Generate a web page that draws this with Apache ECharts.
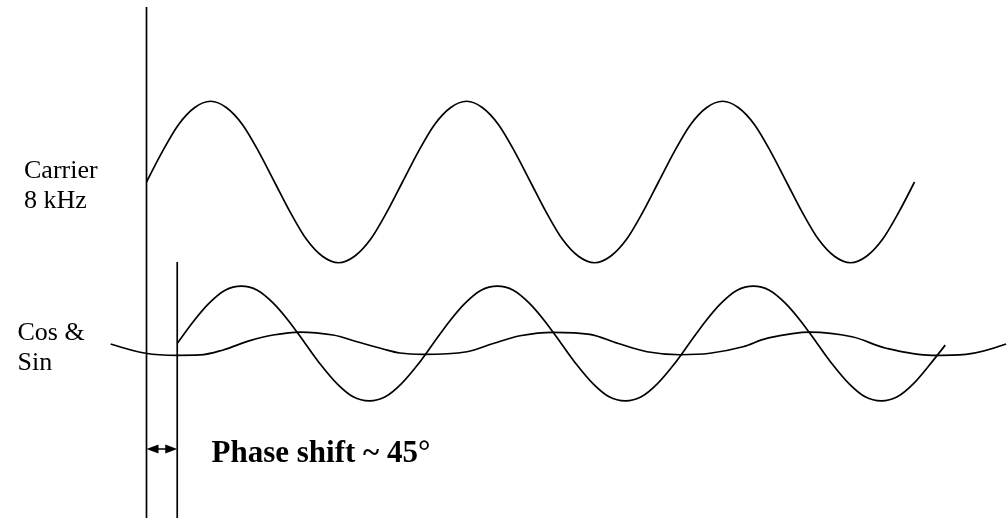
<!DOCTYPE html>
<html><head><meta charset="utf-8">
<script src="https://cdn.jsdelivr.net/npm/echarts@6/dist/echarts.min.js"></script>
<style>html,body{margin:0;padding:0;background:#fff}#c{width:1008px;height:518px}</style>
</head><body><div id="c"></div>
<script>
// Time in microseconds (8 kHz carrier -> 125 us period), level in carrier-amplitude units
const carrierTime  = [0, 7.8, 15.6, 23.4, 31.3, 39.1, 46.9, 54.7, 62.5, 70.3, 78.1, 85.9, 93.8, 101.6, 109.4, 117.2,
                      125, 132.8, 140.6, 148.4, 156.3, 164.1, 171.9, 179.7, 187.5, 195.3, 203.1, 210.9, 218.8, 226.6, 234.4, 242.2,
                      250, 257.8, 265.6, 273.4, 281.3, 289.1, 296.9, 304.7, 312.5, 320.3, 328.1, 335.9, 343.8, 351.6, 359.4, 367.2, 375];
const carrierLevel = [0, 0.38, 0.71, 0.92, 1, 0.92, 0.71, 0.38, 0, -0.38, -0.71, -0.92, -1, -0.92, -0.71, -0.38,
                      0, 0.38, 0.71, 0.92, 1, 0.92, 0.71, 0.38, 0, -0.38, -0.71, -0.92, -1, -0.92, -0.71, -0.38,
                      0, 0.38, 0.71, 0.92, 1, 0.92, 0.71, 0.38, 0, -0.38, -0.71, -0.92, -1, -0.92, -0.71, -0.38, 0];

const cosTime  = [15, 22.8, 30.6, 38.4, 46.3, 54.1, 61.9, 69.7, 77.5, 85.3, 93.1, 100.9, 108.8, 116.6, 124.4, 132.2,
                  140, 147.8, 155.6, 163.4, 171.3, 179.1, 186.9, 194.7, 202.5, 210.3, 218.1, 225.9, 233.8, 241.6, 249.4, 257.2,
                  265, 272.8, 280.6, 288.4, 296.3, 304.1, 311.9, 319.7, 327.5, 335.3, 343.1, 350.9, 358.8, 366.6, 374.4, 382.2, 390];
const cosLevel = [0, 0.27, 0.5, 0.66, 0.71, 0.66, 0.5, 0.27, 0, -0.27, -0.5, -0.66, -0.71, -0.66, -0.5, -0.27,
                  0, 0.27, 0.5, 0.66, 0.71, 0.66, 0.5, 0.27, 0, -0.27, -0.5, -0.66, -0.71, -0.66, -0.5, -0.27,
                  0, 0.27, 0.5, 0.66, 0.71, 0.66, 0.5, 0.27, 0, -0.27, -0.5, -0.66, -0.71, -0.66, -0.5, -0.27, -0.02];

const sinTime  = [-17.5, -0.4, 15.0, 26.1, 37.4, 50.5, 61.8, 75.0, 91.1, 102.8, 115.5, 123.8, 135.0, 156.5, 169.3, 182.4, 198.5, 216.5, 230.4, 244.4, 260.5, 275.1, 291.3, 302.9, 324.0, 344.5, 361.2, 383.5, 400.1, 419.7];
const sinLevel = [-0.006, -0.121, -0.146, -0.142, -0.080, 0.035, 0.105, 0.142, 0.105, 0.022, -0.068, -0.118, -0.134, -0.102, 0.0, 0.096, 0.139, 0.114, 0.0, -0.102, -0.139, -0.121, -0.040, 0.064, 0.142, 0.084, -0.059, -0.146, -0.134, -0.006];

// Annotation: reference verticals (t = 0 and phase-shifted start) and their top levels
const markerTime = [0, 15];
const markerTop  = [2.167, -0.991];
const arrowLevel = -3.307;

const labels = ['Carrier', '8 kHz', 'Cos &', 'Sin', 'Phase shift ~ 45\u00B0'];

const LOWER_OFFSET = -2;
const Y_MIN = -4.161, Y_MAX = 2.254;
const X_MIN = -71.533, X_MAX = 420.654;
const ARROW_HEAD = 12; // px length of each arrow head
const pairs = (ts, vs, off) => ts.map((t, i) => [t, vs[i] + off]);

const ink = { color: '#000', width: 1.7 };
const chart = echarts.init(document.getElementById('c'), null, { renderer: 'canvas' });
// inset so arrow tips touch the verticals (symbols are centred on the end points)
const inset = (ARROW_HEAD / 2) * (X_MAX - X_MIN) / 1008;
const option = {
  animation: false,
  backgroundColor: '#fff',
  grid: { left: 0, right: 0, top: 0, bottom: 0 },
  xAxis: { type: 'value', min: X_MIN, max: X_MAX, show: false },
  yAxis: { type: 'value', min: Y_MIN, max: Y_MAX, show: false },
  series: [
    { type: 'line', name: 'Carrier', data: pairs(carrierTime, carrierLevel, 0), smooth: 0.3, symbol: 'none', lineStyle: ink, clip: false },
    { type: 'line', name: 'Cos', data: pairs(cosTime, cosLevel, LOWER_OFFSET), smooth: 0.3, symbol: 'none', lineStyle: ink, clip: false },
    { type: 'line', name: 'Sin', data: pairs(sinTime, sinLevel, LOWER_OFFSET), smooth: 0.35, symbol: 'none', lineStyle: ink, clip: false },
    { type: 'line', name: 'ref0', data: [[markerTime[0], markerTop[0]], [markerTime[0], Y_MIN]], symbol: 'none', lineStyle: ink },
    { type: 'line', name: 'ref1', data: [[markerTime[1], markerTop[1]], [markerTime[1], Y_MIN]], symbol: 'none', lineStyle: ink,
      markLine: {
        silent: true,
        symbol: ['triangle', 'triangle'],
        symbolSize: [9, ARROW_HEAD],
        label: { show: false },
        lineStyle: { color: '#000', width: 1.5, type: 'solid' },
        data: [[{ coord: [markerTime[0] + inset, arrowLevel] }, { coord: [markerTime[1] - inset, arrowLevel] }]]
      }
    }
  ],
  graphic: [
    { type: 'text', x: 24, y: 171.2, style: { text: labels[0], font: '26px "Liberation Serif"', fill: '#000', align: 'left', verticalAlign: 'middle' } },
    { type: 'text', x: 24, y: 201.2, style: { text: labels[1], font: '26px "Liberation Serif"', fill: '#000', align: 'left', verticalAlign: 'middle' } },
    { type: 'text', x: 17.5, y: 333.3, style: { text: labels[2], font: '26px "Liberation Serif"', fill: '#000', align: 'left', verticalAlign: 'middle' } },
    { type: 'text', x: 17.5, y: 363.2, style: { text: labels[3], font: '26px "Liberation Serif"', fill: '#000', align: 'left', verticalAlign: 'middle' } },
    { type: 'text', x: 211.5, y: 453.5, style: { text: labels[4], font: 'bold 31px "Liberation Serif"', fill: '#000', align: 'left', verticalAlign: 'middle' } }
  ]
};
chart.setOption(option);
</script>
</body></html>
